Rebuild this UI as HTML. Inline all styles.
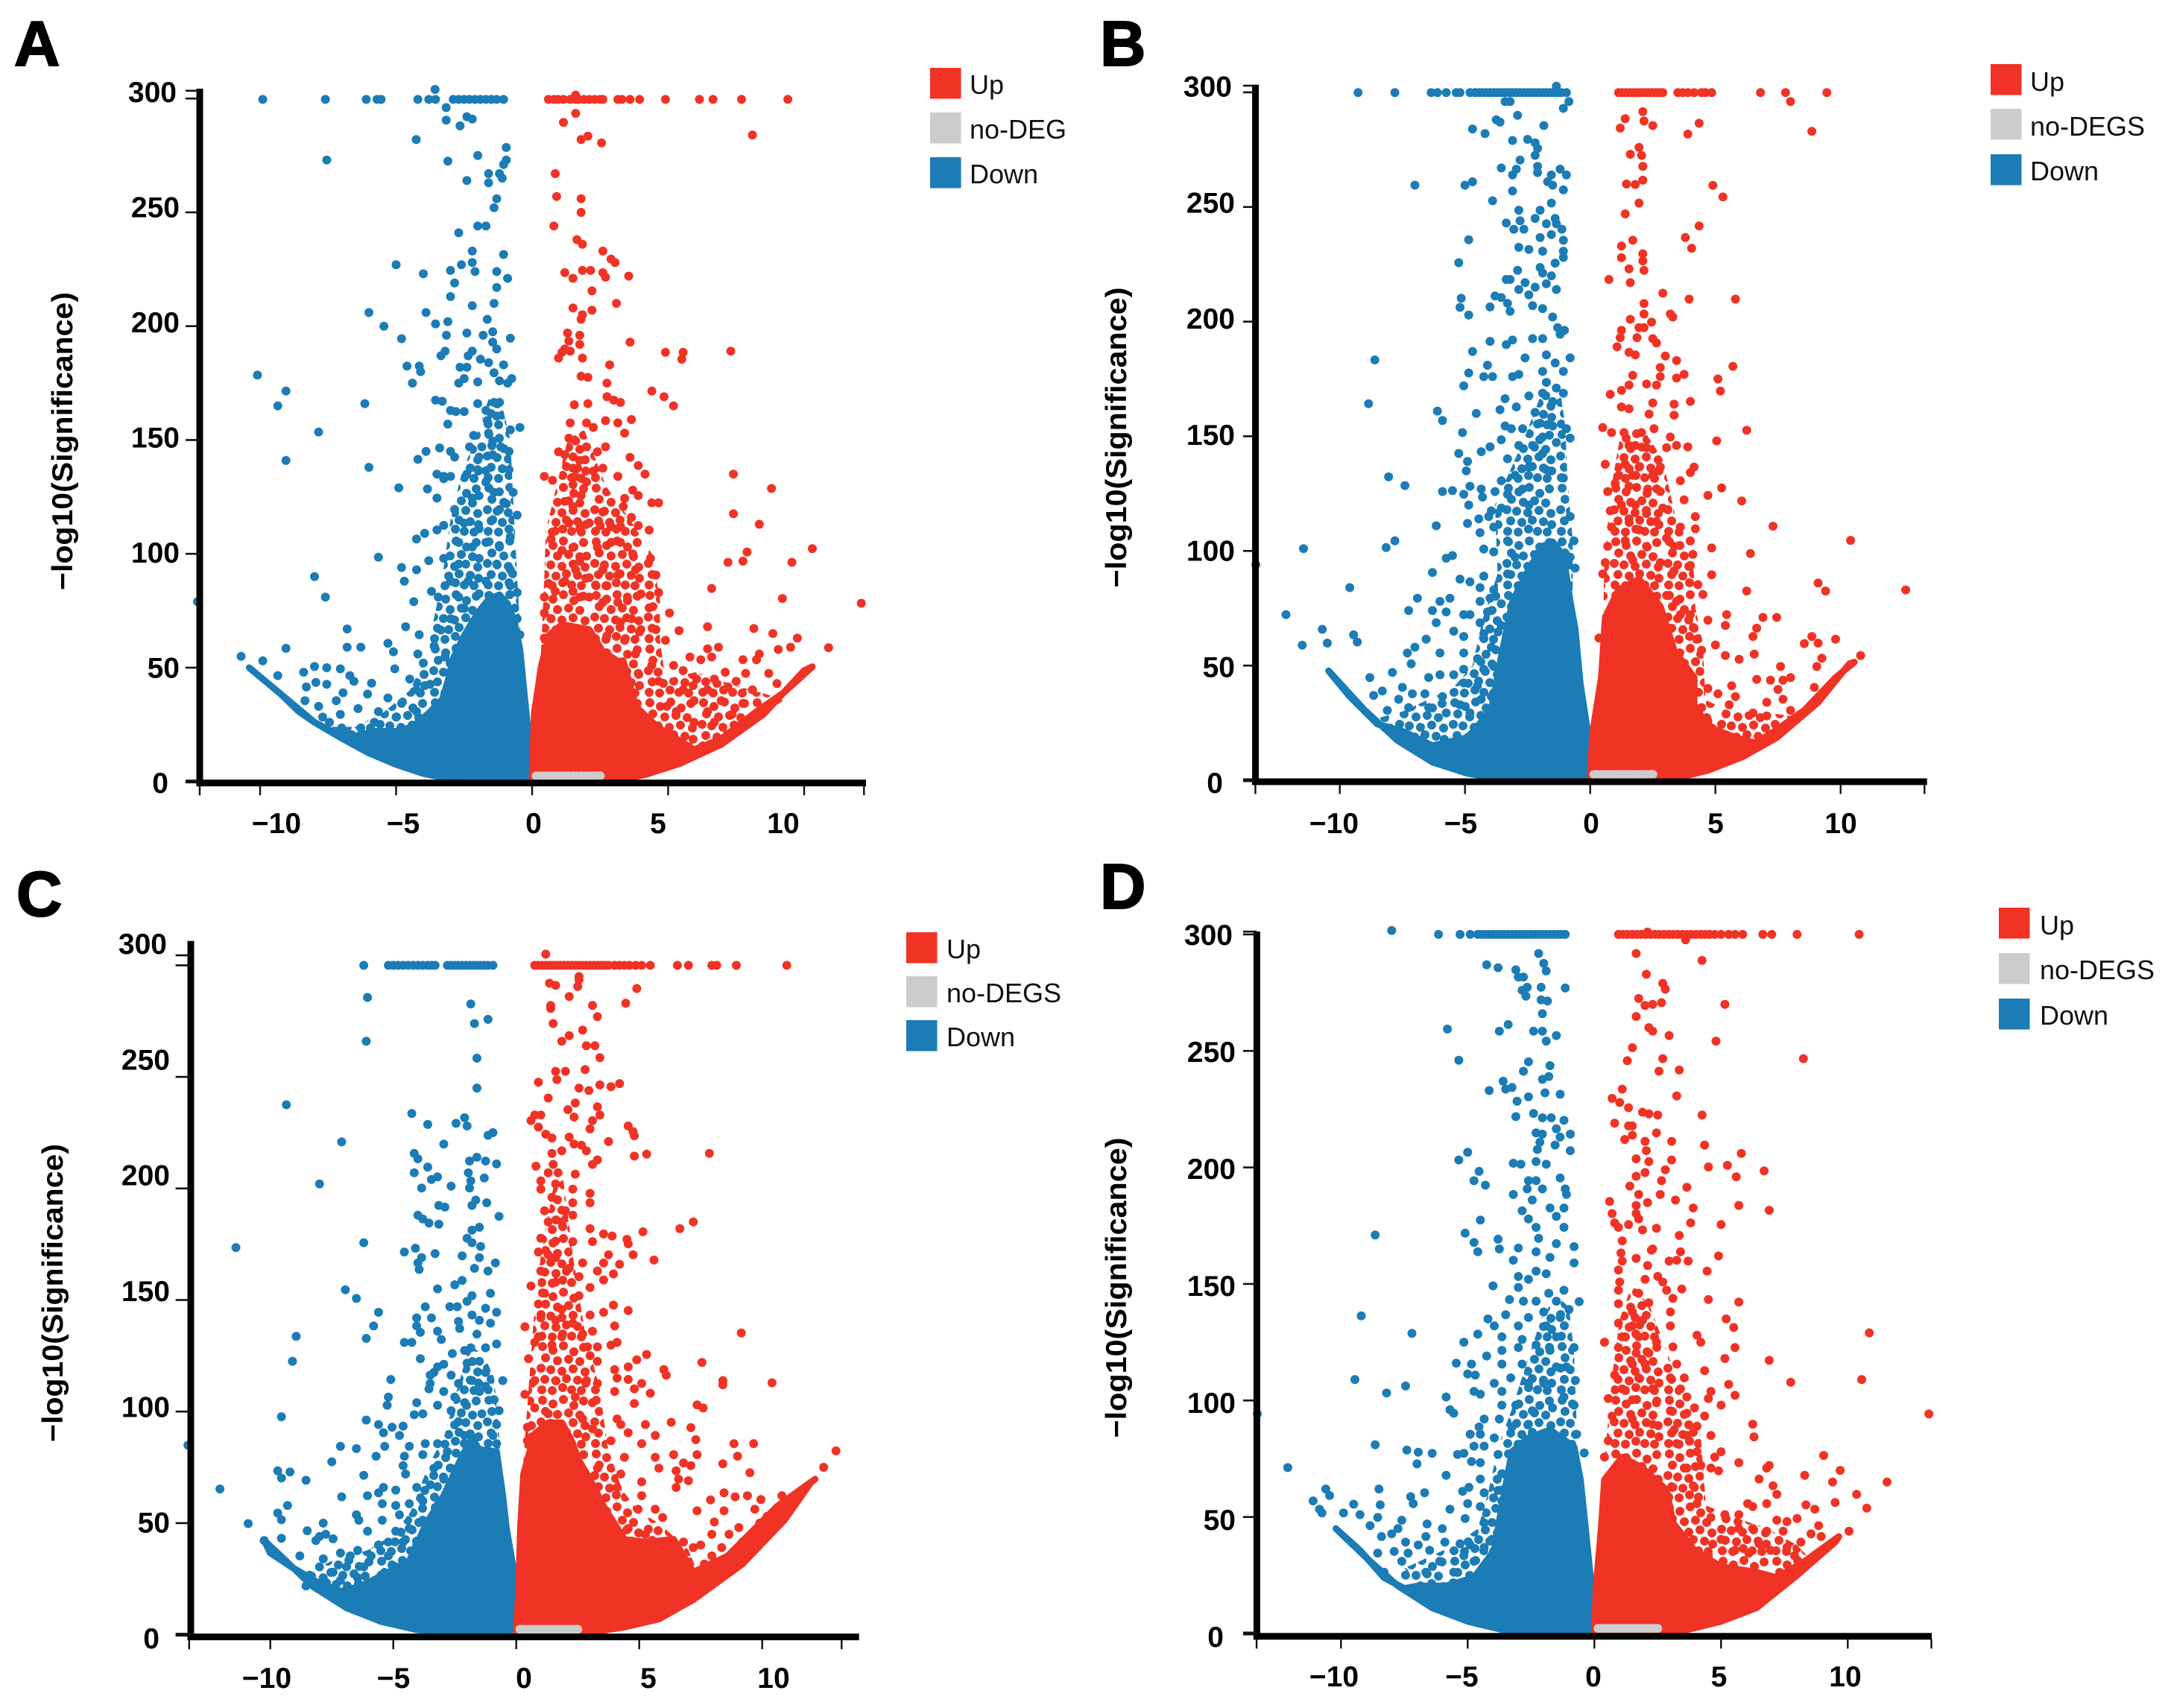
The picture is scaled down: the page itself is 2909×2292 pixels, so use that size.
<!DOCTYPE html>
<html lang="en">
<head>
<meta charset="utf-8">
<title>Volcano plots A-D</title>
<style>
html,body{margin:0;padding:0;background:#fff;}
svg{display:block;}
text{font-family:"Liberation Sans",sans-serif;fill:#000;}
.tick{font-weight:700;font-size:39px;}
.title{font-weight:700;font-size:39px;}
.letter{font-weight:700;font-size:85px;stroke:#000;stroke-width:2px;}
.leg{font-size:36px;fill:#111;}
</style>
</head>
<body>
<svg id="figure" xmlns="http://www.w3.org/2000/svg" width="2909" height="2292" viewBox="0 0 2909 2292">
<defs>
<pattern id="tex-up" patternUnits="userSpaceOnUse" width="72" height="72">
<path d="M8 7h0M22 12h0M36 6h0M50 14h0M63 8h0M12 22h0M28 26h0M43 24h0M58 27h0M6 36h0M19 38h0M34 40h0M49 37h0M65 41h0M11 51h0M26 53h0M40 50h0M55 52h0M66 56h0M7 65h0M21 66h0M35 62h0M47 65h0M60 66h0" stroke="#f03325" stroke-width="12" stroke-linecap="round" fill="none"/>
</pattern>
<pattern id="tex-down" patternUnits="userSpaceOnUse" width="72" height="72">
<path d="M8 7h0M22 12h0M36 6h0M50 14h0M63 8h0M12 22h0M28 26h0M43 24h0M58 27h0M6 36h0M19 38h0M34 40h0M49 37h0M65 41h0M11 51h0M26 53h0M40 50h0M55 52h0M66 56h0M7 65h0M21 66h0M35 62h0M47 65h0M60 66h0" stroke="#1b7cb6" stroke-width="12" stroke-linecap="round" fill="none"/>
</pattern>
</defs>
<rect x="0" y="0" width="2909" height="2292" fill="#fff"/>

<g id="panel-a">
<text class="letter" x="19" y="88">A</text>
<text class="title" transform="translate(97 592) rotate(-90)" text-anchor="middle" textLength="400" lengthAdjust="spacingAndGlyphs">−log10(Significance)</text>
<g>
<rect x="1248" y="91" width="41.5" height="41.5" fill="#f03325"/>
<text class="leg" x="1301" y="126">Up</text>
<rect x="1248" y="151" width="41.5" height="41.5" fill="#cccccc"/>
<text class="leg" x="1301" y="186">no-DEG</text>
<rect x="1248" y="211" width="41.5" height="41.5" fill="#1b7cb6"/>
<text class="leg" x="1301" y="246">Down</text>
</g>
</g>

<g id="panel-b">
<text class="letter" x="1476" y="88">B</text>
<text class="title" transform="translate(1511 587) rotate(-90)" text-anchor="middle" textLength="403" lengthAdjust="spacingAndGlyphs">−log10(Significance)</text>
<g>
<rect x="2671" y="86" width="41.5" height="41.5" fill="#f03325"/>
<text class="leg" x="2724" y="122">Up</text>
<rect x="2671" y="146" width="41.5" height="41.5" fill="#cccccc"/>
<text class="leg" x="2724" y="182">no-DEGS</text>
<rect x="2671" y="207" width="41.5" height="41.5" fill="#1b7cb6"/>
<text class="leg" x="2724" y="242">Down</text>
</g>
</g>

<g id="panel-c">
<text class="letter" x="22" y="1229">C</text>
<text class="title" transform="translate(84 1735) rotate(-90)" text-anchor="middle" textLength="400" lengthAdjust="spacingAndGlyphs">−log10(Significance)</text>
<g>
<rect x="1216" y="1251" width="41.5" height="41.5" fill="#f03325"/>
<text class="leg" x="1270" y="1286">Up</text>
<rect x="1216" y="1310" width="41.5" height="41.5" fill="#cccccc"/>
<text class="leg" x="1270" y="1345">no-DEGS</text>
<rect x="1216" y="1369" width="41.5" height="41.5" fill="#1b7cb6"/>
<text class="leg" x="1270" y="1404">Down</text>
</g>
</g>

<g id="panel-d">
<text class="letter" x="1476" y="1219">D</text>
<text class="title" transform="translate(1511 1728) rotate(-90)" text-anchor="middle" textLength="403" lengthAdjust="spacingAndGlyphs">−log10(Significance)</text>
<g>
<rect x="2682" y="1218" width="41.5" height="41.5" fill="#f03325"/>
<text class="leg" x="2737" y="1254">Up</text>
<rect x="2682" y="1279" width="41.5" height="41.5" fill="#cccccc"/>
<text class="leg" x="2737" y="1314">no-DEGS</text>
<rect x="2682" y="1340" width="41.5" height="41.5" fill="#1b7cb6"/>
<text class="leg" x="2737" y="1375">Down</text>
</g>
</g>
</svg>

<script>
const xTickValues=[-10,-5,0,5,10];
const yTickValues=[0,50,100,150,200,250,300];
const xTickLabels=["−10","−5","0","5","10"];
const yTickLabels=["0","50","100","150","200","250","300"];

const panelAGrey=[0.15,0.3,0.45,0.6,0.75,0.9,1.05,1.2,1.35,1.5,1.65,1.8,1.95,2.1,2.25,2.4,2.5];
const panelBGrey=[0.15,0.3,0.45,0.6,0.75,0.9,1.05,1.2,1.35,1.5,1.65,1.8,1.95,2.1,2.25,2.4,2.5];
const panelCGrey=[0.15,0.3,0.45,0.6,0.75,0.9,1.05,1.2,1.35,1.5,1.65,1.8,1.95,2.1,2.25,2.4,2.5];
const panelDGrey=[0.15,0.3,0.45,0.6,0.75,0.9,1.05,1.2,1.35,1.5,1.65,1.8,1.95,2.1,2.25,2.4,2.5];

const panelADownMid=[[-0.4,60],[-0.55,90],[-0.7,125],[-0.8,150],[-1.1,165],[-1.6,168],[-2.1,150],[-2.6,135],[-3,115],[-3.3,90],[-3.6,72],[-3.9,55],[-4.5,40],[-5.5,30],[-6.5,24],[-7.5,24],[-8,27],[-7,20],[-4,20],[-3,40]];
const panelAUpMid=[[0.3,50],[0.45,90],[0.5,110],[0.9,130],[1.3,150],[1.9,155],[2.7,130],[3.6,115],[4.4,100],[4.7,80],[4.7,62],[4.9,45],[6,48],[7.5,42],[8.7,38],[9.3,36],[8,26],[6,13],[3,10]];
const panelBDownMid=[[-0.7,80],[-0.7,105],[-0.9,130],[-1,155],[-1.2,170],[-1.9,170],[-2.6,150],[-3.2,135],[-3.8,120],[-3.7,90],[-4.3,70],[-4.7,50],[-5.5,40],[-6.5,35],[-7.5,30],[-8.5,27],[-7,16],[-4,15],[-3,50]];
const panelBUpMid=[[0.5,50],[0.55,90],[0.8,125],[1.2,150],[2,155],[2.9,140],[3.4,115],[4.1,100],[4.2,75],[4.5,60],[4.6,35],[5.6,30],[6.7,30],[8,28],[7,15],[4,10],[3,50]];
const panelCDownMid=[[-0.55,60],[-0.7,90],[-0.9,115],[-1.3,125],[-1.9,130],[-2.4,110],[-2.9,90],[-3.6,75],[-4.3,55],[-5,45],[-6,38],[-7.5,33],[-8.5,28],[-7,18],[-4,20],[-2.5,55]];
const panelCUpMid=[[0.2,50],[0.3,80],[0.5,110],[0.7,140],[1,170],[1.5,200],[1.9,205],[2.3,170],[2.8,135],[3.4,110],[3.7,85],[4.3,65],[5,55],[5.8,50],[7,38],[7.3,30],[6,20],[3,30]];
const panelDDownMid=[[-0.5,60],[-0.7,90],[-0.8,120],[-1,140],[-1.5,145],[-2.1,135],[-2.7,115],[-3.3,95],[-3.8,80],[-4.2,60],[-4.6,45],[-5.5,38],[-6.5,33],[-7.5,28],[-6.8,18],[-4,22],[-2.5,60]];
const panelDUpMid=[[0.3,50],[0.45,80],[0.7,110],[1,135],[1.5,150],[2.2,140],[2.9,120],[3.5,100],[4.2,85],[4.4,55],[5.5,50],[6.8,45],[8,38],[8.5,32],[7.5,22],[6,20],[4,35],[2.5,50]];

const panelADownDense=[[-10.4,50],[-10,46],[-9,36],[-8,26],[-7,19],[-6,12.5],[-5,7.5],[-4,3.5],[-3,1],[-2.5,0],[0.05,0],[-0.05,12],[-0.15,22],[-0.3,40],[-0.45,58],[-0.65,70],[-0.9,78],[-1.2,82],[-1.6,80],[-2,74],[-2.5,64],[-2.9,54],[-3.1,44],[-3.3,36],[-3.8,30],[-4.4,24],[-5,22],[-5.8,22],[-6.5,20],[-7.2,21],[-8,26],[-8.6,31],[-9.2,38],[-9.8,44]];
const panelAUpDense=[[0,0],[0.08,30],[0.33,50],[0.6,64],[1.1,69],[2.1,66.7],[2.6,57],[3.4,51],[3.8,33],[4.65,23.5],[5.95,14],[6.95,18.7],[8.25,30.7],[9.25,39],[10.3,50.4],[10,48.7],[8.5,29.5],[6.95,16.3],[5.45,8],[4.15,3],[2.9,0]];
const panelADown=[[-9.9,299.6],[-7.6,299.6],[-6.1,299.6],[-5.7,299.6],[-5.55,299.6],[-4.2,299.6],[-3.8,299.6],[-3.55,299.6],[-2.9,299.6],[-2.7,299.6],[-2.5,299.6],[-2.3,299.6],[-2.1,299.6],[-1.9,299.6],[-1.7,299.6],[-1.5,299.6],[-1.3,299.6],[-1.05,299.6],[-3.57,304],[-3.16,296],[-3.16,290.5],[-2.4,292],[-2.2,291],[-2.65,288],[-4.26,282],[-7.55,273],[-3.1,272.5],[-2,275],[-0.95,278.5],[-0.95,273],[-1.05,271],[-1.6,267],[-1.2,267],[-1.1,265],[-2.4,264],[-1.6,263],[-1.3,256],[-1.4,252],[-2,244],[-1.7,244],[-2.7,241],[-2.2,233],[-1.05,231.5],[-5,227],[-2.6,227],[-2.2,228],[-3,224.5],[-4,223],[-2.1,224],[-1.3,224],[-0.9,221],[-2.85,219],[-1.3,217],[-3,213],[-2.2,209],[-1.4,210],[-6,206],[-3.9,206],[-1.65,203],[-5.45,200],[-3.55,201],[-3.1,202],[-4.8,194.5],[-3.15,196],[-2.4,197],[-1.8,196],[-1.45,197.5],[-0.8,194.7],[-1.45,193],[-1.3,190],[-2.2,189],[-2.35,187],[-3.35,187],[-3.2,189],[-1.9,185.5],[-1.6,184],[-1.05,183],[-2.65,182],[-2.4,182],[-4.6,182.5],[-4.15,182.5],[-4.1,180],[-4.4,175],[-10.1,178.5],[-9.05,171.5],[-9.35,165],[-7.85,153.5],[-9.05,141],[-6.15,166],[-6,138],[-4.9,129],[-5.65,98.5],[-4.8,94],[-4.7,88],[-8,90],[-7.6,81],[-12.3,79],[-2.7,175],[-2.5,177],[-2,175.5],[-1.4,179.5],[-1.2,176],[-0.75,177],[-0.9,175],[-3.55,167.5],[-3.3,167],[-2,166],[-1.4,166.5],[-1.2,166.5],[-3,163],[-2.8,162.5],[-2.5,162.5],[-1.7,163],[-1.3,160.5],[-1.65,158.5],[-3.1,157],[-0.8,154.5],[-0.45,155.5],[-1.6,153],[-2.15,152],[-1.45,149.5],[-3.4,146.5],[-3.9,145],[-4.2,141.5],[-3,145],[-2.85,142.5],[-2.3,147],[-1.85,147],[-1.15,147],[-0.85,145],[-1.95,142.5],[-1.45,143.5],[-3.5,135],[-3.25,134],[-3,134],[-2.4,135],[-2,137],[-1.7,136.5],[-0.85,137],[-3.85,128.5],[-3.5,124.5],[-3.25,133],[-2.2,124.5],[-1.7,131.5],[-1.4,127],[-0.7,127],[-0.95,122],[-1.2,119.5],[-2.85,119.5],[-1.95,125.5],[-0.55,117],[-3.25,112.5],[-3.95,109],[-4.25,106.5],[-3.5,110.5],[-2.5,113.5],[-1.95,111],[-1.45,115],[-0.8,107.5],[-2.7,105],[-2.2,103],[-1.7,105],[-1.2,103],[-3.25,98],[-3.8,97],[-4.25,93],[-2.7,95.5],[-1.95,98],[-1.3,95.5],[-0.8,93],[-3,88],[-2.35,88],[-1.7,88],[-3.7,83.5],[-4.35,79],[-3.45,81],[-2.7,81],[-1.95,82.5],[-0.55,83],[-0.8,86],[-1.05,79],[-3,71.5],[-2.5,76],[-4.65,68],[-4.15,64.5],[-3.35,66.5],[-0.55,71.5],[-0.45,64.5],[-6.8,67],[-6.8,59],[-6.3,59],[-9.05,58.5],[-10.7,55],[-9.9,53],[-9.35,46.5],[-8.4,48],[-8,50.5],[-7.55,50],[-7.05,49.5],[-6.7,46.5],[-8.3,41.5],[-7.95,43.5],[-7.55,42.7],[-5.9,43.2],[-6.55,44],[-6.95,39],[-6.05,38.4],[-8.35,35.5],[-7.85,33],[-7.2,35.5],[-6.4,32],[-7.7,28.3],[-7.05,29.5],[-5.65,30.7],[-5.3,60.7],[-5.1,57],[-5.05,49.5],[-4.5,45],[-4.2,56],[-4,52],[-3.6,59.5],[-3.2,54.7],[-4.25,40.3],[-3.75,42.7],[-5.3,36.7],[-4.8,34.3],[-4.25,30.7],[-5.8,26],[-5,28.3],[-6.3,23.5],[-7,23.5],[-7.45,26]];
const panelAUp=[[0.6,299.6],[0.8,299.6],[0.95,299.6],[1.15,299.6],[1.4,299.6],[1.6,299.6],[1.7,299.6],[1.9,299.6],[2.1,299.6],[2.3,299.6],[2.5,299.6],[2.6,299.6],[3.15,299.6],[3.3,299.6],[3.6,299.6],[3.95,299.6],[4.9,299.6],[6.15,299.6],[6.65,299.6],[7.7,299.6],[9.4,299.6],[1.6,301.5],[1.6,293.5],[1.15,289.5],[8.1,284],[1.8,282],[2.05,283.5],[2.55,280.5],[0.85,267],[0.9,257],[1.8,256],[1.8,250],[0.8,244],[1.65,238],[1.85,236],[2.6,233],[2.9,229.5],[3.05,228],[1.2,223.5],[1.5,221],[1.85,224.5],[2.15,224.5],[2.6,223.5],[2.7,221.5],[3.55,222],[2.2,215.5],[3.1,210],[1.5,208],[2.2,207],[1.85,205],[1.8,203],[1.3,197],[1.75,196],[3.6,193],[1.35,193.5],[1.75,192],[1.2,190],[1.4,189],[1.1,188.5],[0.97,186],[1.85,186],[4.9,188.5],[5.55,188.5],[5.5,185.5],[7.3,189],[2.85,183],[1.8,178],[2.05,177.5],[2.75,175],[4.4,171.5],[4.85,169],[5.2,165],[2.75,169],[3,167.5],[3.25,166.5],[1.55,165.5],[2.05,166],[1.4,157.5],[2,157.5],[2.7,158.5],[2.25,155.5],[3.15,157.5],[3.65,159],[3.4,153],[8.8,128.7],[7.4,135],[7.4,117.6],[8.35,113],[7.9,100.8],[7.2,96.3],[7.75,96.8],[9.55,96.3],[10.3,102.3],[6.6,84.8],[9.2,80.4],[12.1,78.3],[6.45,68],[8.15,67.2],[8.85,65],[9.75,63],[9.05,58],[9.5,59],[10.9,58.8],[6.85,59],[6.45,58.3],[6.2,53.5],[5.8,54.7],[5.2,51],[5.55,48.7],[6.6,54.7],[7.75,53.5],[8.25,53.5],[8.35,56],[8.7,47.5],[9,43],[7.85,47.5],[7.1,48],[7.5,44],[6.7,45],[6.05,45],[7.2,41.5],[8.1,40.3],[6.45,40.3],[5.55,40.3],[5.95,35.5],[6.95,35.5],[7.75,34.3],[4.95,33],[5.3,30.7],[6.45,30.7],[7.35,29.5],[5.95,26],[6.7,26],[4.65,44],[3.9,47.5],[4.4,51],[4.9,62],[4.55,66.7],[5.05,74],[5.4,66.3],[4.3,76.3],[4.65,83],[4.55,90.7],[4.35,98],[3.7,100],[3.8,93],[4,82.4],[3.5,81],[3.15,78.7],[3.65,71.5],[3.25,70],[4,66.7],[2.75,64],[3.4,62],[3.8,56],[2.6,93],[3.15,90.7],[2.35,86],[2.75,86],[1.75,96.8],[2.1,89.5],[1.5,83.5],[0.85,83.5],[0.45,81],[0.45,74],[0.7,71.5],[0.45,63],[1.75,81],[2.1,81],[2.6,78.7],[0.6,87],[1.2,88],[1.6,93],[0.85,110],[0.7,106.4],[1.1,101.5],[1.5,102.8],[2,99],[2.4,102.8],[2.9,105],[3.25,105],[2.5,112.4],[2.9,112],[3.25,112],[3.65,116],[4.3,110.4],[3.9,112.4],[2.6,118.4],[1.35,113.6],[1.75,111],[2.1,113.6],[1.5,120.8],[1.8,125.6],[1.2,123],[3.4,124.4],[3.35,120.8],[4.4,122.4],[4.65,122.4],[3.7,128],[3.9,125.6],[1.5,130.4],[1.6,134],[0.45,134],[0.75,132.3],[2,131.6],[2.25,136.4],[2.6,137.6],[3.15,134],[3.9,138.8],[3.6,142.4],[4.15,135],[1.5,137.6],[1.75,141],[1.2,143.6],[0.97,144.8],[2.7,147],[2.4,144.8],[2,147],[1.6,149.6],[1.35,150.8]];

const panelBDownDense=[[-10.45,47.7],[-9,30.5],[-7.7,17.4],[-6.3,7.9],[-4.9,3],[-3.55,0.7],[0,0],[-0.1,21],[-0.4,42.4],[-0.6,66],[-0.8,78],[-1.07,98],[-1.5,104],[-1.9,102],[-2.45,92],[-3.1,78],[-3.55,54],[-3.95,30.5],[-4.9,18.6],[-6.3,15],[-7.4,21],[-8.5,24.5],[-9.6,36.5]];
const panelBUpDense=[[0,0],[0.1,21],[0.45,45],[0.6,71],[1.13,83],[1.95,87.7],[2.8,75.8],[3.35,56.7],[4.15,44.8],[4.15,32.9],[4.7,23.4],[5.8,18.6],[6.6,16.2],[7.45,22],[8.55,30.5],[9.8,44.8],[10.55,51.5],[10.35,50.8],[9.1,34],[7.45,18.6],[6.1,10.3],[4.7,4.3],[3.35,0.7],[2.65,0]];
const panelBDown=[[-9.27,299.9],[-7.8,299.9],[-6.35,299.9],[-6.1,299.9],[-5.75,299.9],[-5.35,299.9],[-5.2,299.9],[-4.8,299.9],[-4.6,299.9],[-4.45,299.9],[-4.3,299.9],[-4.15,299.9],[-4,299.9],[-3.85,299.9],[-3.7,299.9],[-3.55,299.9],[-3.4,299.9],[-3.25,299.9],[-3.1,299.9],[-2.95,299.9],[-2.8,299.9],[-2.65,299.9],[-2.5,299.9],[-2.35,299.9],[-2.2,299.9],[-2.05,299.9],[-1.9,299.9],[-1.75,299.9],[-1.6,299.9],[-1.45,299.9],[-1.3,299.9],[-1.15,299.9],[-0.95,299.9],[-1.35,302.7],[-3.4,296],[-3.2,296],[-0.85,296],[-1.07,293],[-2.9,290],[-3.75,288],[-3.6,287],[-1.85,285.5],[-4.7,284],[-4.2,282],[-3.1,279],[-2.5,279.5],[-2.2,278],[-2.1,275.5],[-2.2,272.5],[-2.8,270.5],[-3.55,267],[-2.95,266.5],[-3.1,264],[-2.1,267.7],[-2.1,265],[-1.2,266.5],[-0.95,264],[-1.55,264],[-1.7,261],[-1.5,259.5],[-1.07,257.5],[-7,259.5],[-4.7,261],[-5,259.5],[-3.1,257],[-3.9,252.7],[-1.55,251.7],[-2.85,248.6],[-2,248.6],[-3.35,243],[-2.8,244],[-3.05,240.3],[-2.65,240.3],[-2.2,245],[-1.75,242.7],[-1.4,245],[-1.13,240.3],[-1.35,242.7],[-2,236.7],[-1.55,238],[-1.07,235.5],[-4.85,235.7],[-2.85,232.4],[-2.45,231.5],[-1.9,230.7],[-1.07,230.7],[-1.07,228],[-5.25,225.7],[-2.9,222.4],[-2,223.6],[-1.4,225.5],[-1.9,221.2],[-1.55,220],[-3.35,218.4],[-3.2,218.4],[-2.6,217],[-2.2,215],[-1.75,216.5],[-1.35,214],[-2.85,214],[-2.45,211.7],[-3.8,211.2],[-3.55,210.5],[-5.15,210.2],[-5.2,206.2],[-4.85,202.9],[-4,206.4],[-3.3,208],[-3.2,204.5],[-2.3,207],[-1.9,205.7],[-1.5,202],[-1.3,197.4],[-1.03,196.2],[-1.2,194.5],[-2.3,192.6],[-1.9,192.6],[-3.1,192],[-3.35,190],[-4,191.4],[-4.7,187],[-8.6,183.3],[-2.6,184.2],[-1.75,185.5],[-0.8,184.2],[-1.4,182],[-4.85,177.6],[-4.1,181],[-4.25,176],[-3.9,176],[-3.1,176],[-2.85,177],[-1.9,178.3],[-1.07,178.3],[-5.05,172],[-1.75,173.5],[-1.35,171],[-1.07,168.8],[-8.85,164.2],[-3.4,166.4],[-2.45,167.6],[-1.9,168.8],[-1.5,165.2],[-6.1,161],[-5.9,156.9],[-4.55,160],[-3.6,161.6],[-2.95,162.8],[-2.2,160.4],[-5.1,151.6],[-3.4,154.5],[-3.15,153.3],[-2.7,153.3],[-2,155.7],[-1.5,154.5],[-0.95,153.3],[-0.8,149.2],[-3.55,148.5],[-2.85,146],[-2.3,146],[-1.9,149.7],[-1.35,147.3],[-5.25,142.5],[-4.35,143.3],[-4,145.4],[-1.9,142.5],[-4.9,139],[-3.3,140.2],[-2.45,136.6],[-1.75,135.4],[-4.95,134.9],[-8.05,132.3],[-7.4,128.5],[-3.55,130.6],[-3,133],[-1.07,131.8],[-4.8,128.2],[-4.35,127],[-5.9,125.9],[-5.5,126.3],[-3.8,125.9],[-3.3,124.7],[-2.7,127],[-5.05,124.7],[-4.3,123.5],[-4.85,120],[-3.55,118.7],[-3.95,117.5],[-2.45,120],[-0.8,115],[-4.05,115],[-4.45,114],[-4.9,112],[-6.15,111],[-3.85,110.4],[-4.4,108],[-3.3,104.4],[-7.8,104.4],[-8.15,101.5],[-11.45,101],[-13.35,94],[-5.75,96.8],[-5.5,98],[-4.25,100.8],[-3.85,99.6],[-3,97.3],[-0.65,104.4],[-0.8,97.3],[-0.6,92.5],[-6.3,90.6],[-5.2,87.7],[-4.8,86.5],[-4.25,89],[-3.85,83],[-4.4,84],[-3.3,90],[-9.6,84],[-6.9,79.4],[-6,78],[-5.6,79.4],[-4.4,78],[-4,79.4],[-7.25,74],[-6.3,74],[-5.75,73.4],[-5.05,72.2],[-4.8,72.2],[-4.1,73.4],[-3.55,77],[-12.15,72.2],[-10.7,65.8],[-9.45,63.4],[-9.3,60.3],[-10.5,59.8],[-11.5,58.9],[-6.15,68.7],[-5.45,65],[-5.05,62.7],[-4.4,68.7],[-4.25,63.9],[-3.55,67.5],[-6.55,61.5],[-7.3,55.5],[-7,58],[-6,55.5],[-5.05,55.5],[-4.5,53],[-3.95,58],[-7.15,50.8],[-6,46],[-5.45,46],[-7.9,47],[-8.8,44.8],[-5.05,48.4],[-4.25,48.4],[-3.85,49.6],[-6.45,44.8],[-7.5,40.5],[-8.65,37],[-8.3,38.9],[-5.05,42.4],[-4.5,41.2],[-6.6,37.7],[-5.9,36.5],[-7.65,35.3],[-7.1,37.7],[-5.2,32.9],[-4.35,35.3],[-8.1,30.5],[-7.25,31.7],[-6.45,31.7],[-5.75,29.3],[-4.8,29.3],[-3.95,36.5]];
const panelBUp=[[1.13,299.9],[1.28,299.9],[1.43,299.9],[1.58,299.9],[1.73,299.9],[1.88,299.9],[2.03,299.9],[2.18,299.9],[2.33,299.9],[2.48,299.9],[2.63,299.9],[2.78,299.9],[2.9,299.9],[3.5,299.9],[3.7,299.9],[3.9,299.9],[4.15,299.9],[4.45,299.9],[4.6,299.9],[4.85,299.9],[6.8,299.9],[7.8,299.9],[9.45,299.9],[8,296],[8.85,283],[2.1,291.6],[1.4,288.5],[2.15,287.5],[1.2,284.4],[2.5,285.5],[4.35,286.5],[3.9,281.8],[1.95,276],[1.6,273],[2.05,272.5],[2.1,267.7],[2.1,261.7],[1.8,259.8],[1.45,260],[4.9,259.4],[5.3,254.4],[1.95,251.7],[1.4,247],[4.35,241.7],[3.8,236.7],[4.05,232],[1.7,235.5],[1.25,233],[2.1,229.6],[1.25,227.9],[2.1,226.5],[1.55,223],[2.15,222.4],[0.75,218.4],[1.6,217],[2.9,212.4],[3.95,209.8],[5.8,209.8],[2.15,207.9],[2.15,203.3],[3.2,203.3],[3.3,202],[1.6,201],[1.25,196.2],[1.95,197.4],[2.15,197.4],[2.45,199.8],[1.2,193],[1.87,193],[2.5,192.6],[2.65,190.7],[1.07,189],[1.55,186.6],[1.8,185.5],[3,185],[3.45,183],[5.7,180.5],[2.8,180],[1.7,176.6],[3.75,177],[3.45,175.4],[5.1,175],[2.8,176],[1.55,172.3],[2.25,172.8],[2.65,172.3],[1.25,170],[0.8,168.3],[5.2,169.7],[4,165.2],[2.5,164.5],[3.35,164],[1.25,162.8],[1.55,162],[3.35,159.2],[2.35,159.7],[0.5,153.8],[0.85,151.6],[1.35,151.6],[2.05,151.6],[2.55,153.3],[3.2,149.7],[6.25,152.6],[5.05,148],[1.55,146],[1.8,146],[2.25,145],[3.05,145],[3.45,146],[3.9,145.4],[0.6,137.8],[1.4,137.8],[1.95,136.6],[2.8,136.6],[4.15,136.6],[4,134.2],[1.15,133],[1.7,133],[2.5,133],[3.6,130.6],[1,129.4],[1.55,128.2],[2.3,127],[2.8,125.9],[5.25,127.5],[4.7,124.2],[0.7,125.9],[3.75,122.3],[6.05,121.8],[1.25,120],[1.8,120],[2.25,116.3],[2.9,118.7],[4.2,115],[0.8,117.5],[1.55,114],[2.65,112.8],[3.6,110.4],[4.2,109.7],[7.3,110.8],[0.85,110.4],[1.95,109.2],[3.05,105.6],[4,104.4],[10.4,104.6],[0.7,102],[1.4,104.4],[4.85,101.3],[2.25,102],[3.35,102],[6.4,98.9],[4.1,98.5],[0.6,94.9],[1.7,96],[2.8,94.9],[4,93.7],[0.5,90],[3.35,91.3],[4.85,89.6],[9.1,86],[9.4,82.5],[12.6,83],[4.3,85.3],[6.25,82.5],[4.5,81],[3.05,80.6],[3.45,78],[3.6,72.2],[4,72.2],[4.7,69.8],[5.45,72.2],[5.4,67.5],[6.9,71],[7.45,71],[6.65,66.3],[6.5,62.7],[4.15,66.3],[4.25,61.5],[0.35,62],[5,59],[8.85,62.7],[8.55,59.6],[9.1,59.8],[9.8,61.5],[5.4,54.4],[5.95,52.7],[6.55,55],[4.45,56.7],[10.8,54.4],[9.25,53.2],[9.05,49.6],[7.6,49.6],[8,44.8],[7.7,43.6],[8.95,40.5],[6.65,44],[7.2,43.6],[7.5,39.6],[5.65,41.2],[5.1,37.7],[5.8,36.5],[7.05,34],[7.7,35.3],[8,30.5],[4.7,40],[3.9,42.4],[4.45,31.7],[5.55,32.9],[6.5,29.3],[7.05,28],[4.7,25.7]];

const panelCDownDense=[[-10.25,42.2],[-9.7,36.6],[-8.3,21.8],[-6.9,12],[-5.5,5.9],[-4.05,2.2],[-2.95,1],[0,0.5],[0.03,20.6],[-0.17,33],[-0.4,47.6],[-0.55,62.3],[-0.8,82],[-1.5,83],[-1.8,88],[-2.2,80],[-2.95,62.3],[-3.65,50],[-4.35,33],[-5.2,28],[-6.3,21.8],[-7.15,19.4],[-8,23],[-9.15,30.4],[-10,36.6]];
const panelCUpDense=[[0,0.5],[0.1,20.6],[0.17,47.6],[0.3,72],[0.75,90],[1.3,95],[1.85,95],[2.2,88],[2.55,78],[3,69.7],[3.55,57.4],[4.4,42.7],[5.25,41.5],[6.4,42.7],[7.2,28],[8.6,35.3],[10.6,57.4],[12.15,69.7],[12,68.5],[10.9,51.3],[9.2,31.7],[7.2,15.7],[5.8,7],[4.4,3.4],[2.7,0.5]];
const panelCDown=[[-6.2,300],[-5.2,300],[-5,300],[-4.8,300],[-4.6,300],[-4.4,300],[-4.2,300],[-4,300],[-3.8,300],[-3.6,300],[-3.45,300],[-3.3,300],[-2.8,300],[-2.65,300],[-2.5,300],[-2.35,300],[-2.2,300],[-2.05,300],[-1.9,300],[-1.75,300],[-1.6,300],[-1.45,300],[-1.3,300],[-1.15,300],[-0.95,300],[-6.05,285.6],[-6.1,266],[-1.85,282.7],[-1.7,273.9],[-1.15,275.8],[-1.6,258.4],[-1.6,245],[-9.35,237.5],[-4.25,233.6],[-3.6,228.7],[-2.45,229.2],[-2.1,231.7],[-2,228],[-1.15,223.8],[-0.95,225],[-2.95,219.9],[-7.1,220.9],[-4.15,215.7],[-4,213.3],[-3.6,209.6],[-4.15,207],[-1.6,214],[-1.9,212.3],[-1.25,212.3],[-0.8,211],[-3.2,205.2],[-3.45,204],[-2.65,201],[-3.85,200.2],[-8,202],[-1.95,207],[-1.85,203.4],[-1.3,204.7],[-1.9,200.2],[-1.65,194.8],[-1.8,192.4],[-1.2,193.6],[-3.15,192.4],[-2.9,191.6],[-0.7,187.5],[-4,188],[-3.8,186.3],[-3.55,184.5],[-3.15,184],[-1.5,182.6],[-1.8,181.3],[-2,177.7],[-6.2,175.7],[-1.8,175.7],[-1.45,174],[-11.4,173.5],[-4.1,173.2],[-4.55,171.5],[-3.3,170.8],[-3.85,169],[-2.2,169.8],[-1.5,169],[-4,166.6],[-0.85,166.6],[-3.95,163.7],[-1.7,164.2],[-1.15,163],[-2.2,158.8],[-2.5,156.8],[-6.95,154.6],[-3.2,155],[-1.05,153],[-6.5,150.7],[-1.8,151.9],[-3.7,147],[-2.7,147],[-2.4,147],[-2,149.4],[-5.6,144.5],[-1.25,146.3],[-0.8,144.5],[-4.05,142],[-3.45,142],[-1.8,143.3],[-1.5,140.9],[-2.35,140.4],[-1.05,139.6],[-5.8,138.4],[-4.05,138.4],[-2.3,137.2],[-3.9,135.5],[-3.2,136],[-8.95,133.7],[-6.1,132.8],[-1.6,134.7],[-3.05,132.3],[-4.55,131],[-4.25,131],[-0.8,130.3],[-1.85,128.6],[-1.25,128.6],[-2.6,126],[-2.1,127.4],[-3.9,123.7],[-9.1,122.5],[-2.95,121.2],[-3.2,120],[-2,121.7],[-1.5,122.5],[-3.35,117.5],[-3.5,116.3],[-2.65,116.3],[-1.25,117.5],[-5.1,114.4],[-0.55,113.9],[-3.5,112.6],[-2.35,112.6],[-1.8,113.9],[-1.25,111.4],[-3.55,110.2],[-2.95,109],[-2.5,106.5],[-5.2,106.5],[-1.5,109],[-0.9,105.3],[-5.25,102.8],[-4.05,104],[-3.2,102.8],[-9.55,97.7],[-3.8,99],[-4.15,98.6],[-2.65,100.4],[-2.1,104],[-0.7,100.4],[-1.4,99],[-6.1,96.2],[-5.6,94.2],[-5.05,93],[-4.6,93.5],[-2.35,95.5],[-0.8,94.2],[-5.4,90.5],[-4.75,89.3],[-2.1,89.3],[-7.15,84.4],[-6.5,83.4],[-4.35,84.4],[-3.7,85.6],[-3.2,85.6],[-5.35,84.4],[-0.95,89.3],[-0.8,85.6],[-13.35,84.9],[-5.7,80],[-4.55,80],[-3.8,80.7],[-2.8,82],[-7.5,77.5],[-4.6,75.8],[-3.35,74.6],[-2.65,74.6],[-9.7,73.4],[-9.2,72.9],[-9.55,70.2],[-6.2,71.4],[-4.5,72],[-8.55,69.2],[-5.4,66],[-6.05,62.3],[-12.05,65.3],[-7.1,61.8],[-5.6,63.6],[-4.9,64.8],[-4.05,66],[-3.5,67.2],[-2.95,69.7],[-9.3,57.9],[-5.45,58.7],[-4.9,57.9],[-4.35,58.7],[-3.8,59.9],[-3.15,58.7],[-9.7,54.5],[-9.55,51.5],[-6.5,53.7],[-10.9,49.8],[-6.4,51.3],[-5.45,51.3],[-4.75,53.7],[-7.85,50],[-8.5,46.6],[-9.55,43.2],[-10.25,42.2],[-8,44],[-7.75,45],[-7.45,43],[-8.15,42.2],[-6.05,46.4],[-4.9,46.4],[-4.35,47.6],[-3.8,51.3],[-3.5,45],[-5.2,41.5],[-5.6,40.2],[-4.6,41.5],[-8.8,35.3],[-7.85,34],[-7.15,36.6],[-6.75,35.3],[-6.45,37.8],[-5.9,35.3],[-5.2,35.3],[-4.05,40.2],[-8,30.4],[-7.45,28],[-6.9,30.4],[-6.2,30.4],[-4.9,30.4],[-4.2,33],[-8.4,26.7],[-7.15,24.3],[-6.45,25.5],[-5.5,26.7],[-8.55,21.8],[-7.85,25.5]];
const panelCUp=[[0.75,300],[0.9,300],[1.05,300],[1.2,300],[1.35,300],[1.5,300],[1.65,300],[1.8,300],[1.95,300],[2.1,300],[2.25,300],[2.4,300],[2.55,300],[2.7,300],[2.85,300],[3,300],[3.15,300],[3.3,300],[3.45,300],[3.6,300],[3.75,300],[4,300],[4.2,300],[4.4,300],[4.6,300],[4.85,300],[5.1,300],[5.45,300],[6.55,300],[7,300],[7.95,300],[8.15,300],[8.95,300],[11,300],[1.2,305],[2.55,295],[2.55,293.5],[1.35,292],[1.6,291],[2.5,290.5],[4.9,289.6],[2.15,286],[4.45,283],[1.4,282],[1.4,280.7],[3.1,282],[3.3,277],[1.5,273.9],[2.7,271],[2.15,268.5],[1.85,266],[2.85,264],[3.2,264],[3.4,258.6],[2.8,253.3],[1.6,252.5],[2,252.5],[1.65,248.8],[0.9,247.6],[4.2,247],[3.85,245.6],[2.55,245],[2.95,243.9],[3.4,246.4],[1.3,240.5],[2.4,238.3],[3.3,236.6],[2.1,235.3],[0.75,232.9],[1,232.9],[0.6,230.4],[2.35,232],[3.4,232.9],[3.1,230.4],[4.55,228],[0.9,227.5],[4.75,225.5],[3,226.7],[1.2,224.3],[1.45,222.6],[2.15,223],[4.8,223.6],[3.75,221],[2.35,219.9],[2.65,219.4],[7.85,215.7],[5.3,215.4],[4.8,214.5],[1.45,215.7],[1.85,216.9],[2.85,216.9],[3.3,212.8],[3.1,210.8],[1.5,210.8],[0.8,210],[1.3,207],[1.7,207],[2.4,206.4],[1,203.4],[1.6,202],[1,199.7],[2.3,199.7],[3,197.8],[1.45,196],[3,193.6],[2.3,193.6],[1.15,190],[2,190],[2.3,188],[1.3,185],[1.85,185],[7.2,185],[6.65,182],[3,182],[5.15,180.6],[3.55,179.6],[3.9,178.7],[4.5,177.2],[1,177.7],[1.6,176.4],[2.3,176.2],[3.1,176.2],[4.55,175.2],[0.9,171.5],[1.3,170.3],[4.75,170.3],[3.75,170.3],[5.6,167.9],[1.6,169],[2.7,166.6],[3.55,166.6],[4.2,166],[3.3,163],[2.15,164.2],[1,163],[2.55,160.5],[3.95,161.7],[3.55,159],[0.6,156.3],[1.6,158],[3,155.6],[1.15,153],[2.55,151.9],[0.9,148.2],[1.85,145.8],[3.95,147.7],[4.55,145.3],[3.55,144.5],[3,143.3],[1,142],[1.6,140.9],[2.3,139.6],[4,138.4],[0.35,138],[2.7,134.7],[3.1,136],[9.15,135.2],[0.9,133.5],[1.85,133.5],[3.85,129.8],[3.3,129],[2.9,129],[4.1,131],[1.45,129.8],[0.75,131],[5.3,125.6],[4.9,123.2],[4.55,120],[4,118.8],[0.5,123.7],[3,125],[3.3,122.5],[7.55,122],[6,118.8],[6.1,116.3],[4.1,115],[4.55,114.4],[8.4,113.9],[8.4,112],[10.4,112.9],[2.85,113.9],[3.3,112.6],[5.1,112.6],[4,109],[4.8,110.2],[5.45,108.2],[0.75,113.9],[1.6,113.9],[0.35,107.7],[2.4,106.5],[3.1,104],[4.8,103.6],[7.35,103],[7.6,101.6],[0.75,101.6],[1.3,99],[2.7,96.7],[4.1,96.7],[6.3,95.2],[5.25,94.2],[4.25,94.2],[7.1,92.8],[0.45,93],[3.1,92.3],[4.55,90.5],[5.65,89.3],[7.3,87.4],[8.85,85.6],[9.65,85.6],[3.85,86.9],[5.1,85.6],[0.45,86.9],[13,82.4],[6.4,80.7],[7.35,80.7],[9,80],[5.65,79.5],[4.4,79.5],[8.4,76.6],[6.8,77],[5.8,74.6],[7.1,75.8],[12.5,75],[9.5,72.6],[6.5,73.4],[5.1,68.5],[6.6,69.7],[7,69],[4.25,72],[3.3,74.6],[4.1,66],[6.5,66],[5.1,62.3],[8.45,63.6],[8.9,61.8],[7.9,60.4],[9.4,62.3],[9.95,60.6],[10.8,62.3],[7.35,55.5],[8.45,55.5],[9.7,56.2],[10.2,53],[9.9,50],[5.65,56.2],[5.95,52.5],[4.95,56.2],[8.05,50.5],[9.05,48],[8.65,45],[7.95,45],[7.5,40.2],[6.8,41.5],[6.4,40.2],[8.35,39],[9.2,41.5],[7.2,39],[7.95,35.3],[7.65,31.7],[4.55,47.6],[5.25,45]];

const panelDDownDense=[[-10.2,45],[-8.85,31],[-7.75,20.4],[-6.4,11],[-5,5.2],[-3.4,1],[0,0],[-0.13,21.6],[-0.35,45],[-0.55,66],[-0.8,80],[-1.75,87.4],[-2.6,83.9],[-3.25,78],[-3.65,54.5],[-3.95,35.7],[-4.75,24],[-5.85,20.4],[-6.95,20.4],[-7.5,19.3],[-8.3,24],[-9.25,35.7]];
const panelDUpDense=[[0,0],[0.08,21.6],[0.27,45],[0.4,66],[1.1,75.7],[1.9,71],[2.85,61.6],[3.1,47.5],[3.95,35.7],[5,28.7],[6.4,26.3],[7.2,24],[8.3,31],[9.65,41.6],[9.5,39.2],[8,25],[6.4,11],[5,5.2],[3.65,1.6],[2.7,0]];
const panelDDown=[[-8,301.7],[-6.15,300],[-5.3,300],[-4.9,300],[-4.6,300],[-4.45,300],[-4.3,300],[-4.15,300],[-4,300],[-3.85,300],[-3.7,300],[-3.55,300],[-3.4,300],[-3.25,300],[-3.1,300],[-2.95,300],[-2.8,300],[-2.65,300],[-2.5,300],[-2.35,300],[-2.2,300],[-2.05,300],[-1.9,300],[-1.75,300],[-1.6,300],[-1.45,300],[-1.3,300],[-1.15,300],[-2.2,291.8],[-2,287.6],[-4.25,287],[-3.8,285.7],[-3.1,284.8],[-3,281.7],[-2.8,281.7],[-1.9,284.3],[-1.15,277],[-2.85,276],[-2.65,277.3],[-2.1,277.3],[-2.7,273.5],[-2.1,271.9],[-1.85,271.4],[-2.05,266],[-5.8,259.4],[-3.4,261.3],[-3.75,258.5],[-2.4,258.5],[-2.05,258.5],[-1.5,256.6],[-1.9,254.2],[-5.35,246],[-2.6,245.3],[-2.8,241.3],[-1.75,243.7],[-1.8,239],[-2.05,237.8],[-3.6,237],[-4.15,233],[-3.5,233.6],[-3.25,234.3],[-2.6,230.3],[-3.05,228.4],[-1.35,231.4],[-1.95,232],[-2.4,223.2],[-3.1,221.8],[-2.05,221.3],[-1.7,221.3],[-1.2,220.2],[-2.3,214.8],[-2.05,214.3],[-1.5,216.6],[-0.95,214.3],[-1.35,213],[-1.55,209.6],[-2.15,210.8],[-5,206.5],[-5.35,203.2],[-0.95,207.2],[-2.25,207.7],[-3.2,201.8],[-2.9,201.4],[-2.3,202.5],[-1.9,201.4],[-4.55,198.3],[-4.75,194.3],[-4.3,192.4],[-2.6,194.3],[-2.3,194.3],[-1.35,195.5],[-1.15,190.8],[-2.65,190.8],[-2.05,190.8],[-3.2,188.4],[-2.45,186],[-1.1,188.4],[-1.75,182.6],[-2.85,181.4],[-1.2,182.6],[-2.6,177.9],[-4.5,177.4],[-1.5,179],[-2.3,174.3],[-1.2,174.3],[-8.65,171],[-5.1,171.8],[-3.8,169.2],[-4.75,167.8],[-4.6,163.8],[-3.75,165],[-3,165.4],[-2.2,169.6],[-1.5,167.3],[-0.8,166],[-2.3,163.8],[-1.75,161.4],[-3.2,160.2],[-0.8,159],[-3,153.2],[-2.3,155.5],[-1.9,154.4],[-4,149.2],[-2.6,152],[-3,148.5],[-1.2,147.3],[-1.8,146],[-0.6,142.4],[-3.35,143.3],[-2.8,142.6],[-2.3,142.6],[-1.5,142.6],[-1,139],[-3.5,136.8],[-9.2,136.3],[-4.2,135],[-2,138],[-2.6,135.6],[-1.35,135.6],[-3.95,132],[-3,132],[-1.9,132],[-7.2,128.8],[-4.6,128.5],[-3.65,127.3],[-5.15,125],[-2.85,126.2],[-1.5,127.3],[-2.3,123.8],[-0.8,122.7],[-3.65,121.5],[-3,122.7],[-1.75,121.5],[-4.25,119.1],[-2.85,115.6],[-5.45,116],[-4.85,115.6],[-3.65,115.6],[-1.5,114.4],[-1.1,114.4],[-5,111.4],[-9.45,109],[-7.45,106.2],[-8.2,103.2],[-4.7,110.9],[-3.3,109.7],[-3.95,107.4],[-2.6,107.4],[-0.75,108.6],[-2,107.4],[-4.75,103.9],[-4.5,102.7],[-3.65,103.9],[-5.85,101.5],[-1.2,101.5],[-0.8,98],[-3.65,98],[-3.1,98],[-5.7,96],[-5.55,94.5],[-2.45,95.6],[-1.65,96.8],[-4.35,92],[-3.75,92],[-4.55,88.6],[-2.6,89.8],[-3.25,88.6],[-4.9,85.5],[-4.5,85.5],[-0.7,85.5],[-8.65,81],[-3.95,83.9],[-4.75,80.4],[-4.35,80.4],[-7.4,78.7],[-6.95,77.8],[-6.4,77.3],[-5.4,76.8],[-5.15,77.3],[-3.8,76.8],[-0.4,77.5],[-7,72.8],[-4.85,73.8],[-4.5,73.3],[-12.1,71.2],[-3.65,68.6],[-5.85,67.9],[-4.5,66.3],[-3,71],[-10.6,62],[-10.45,59.2],[-8.5,62],[-6.7,60.4],[-7.25,58.7],[-7.15,55.7],[-5.2,61],[-4.95,62.7],[-4.35,60.4],[-3.65,61.6],[-11.1,56.9],[-10.85,53.3],[-10.75,51.7],[-9.5,55.5],[-8.45,55.2],[-9.9,51.7],[-9.25,51],[-5.7,53.3],[-5,55.7],[-4.5,54.5],[-3.65,56.9],[-8.55,49.8],[-8.85,46.3],[-7.6,48.6],[-7.75,45],[-5.1,49.3],[-4.35,47.5],[-6.6,47],[-6,45],[-8.4,41.6],[-8,42.8],[-7.45,39.2],[-6.65,41.6],[-5.3,38.5],[-4.9,38],[-4.05,40.4],[-3.65,47.5],[-6.95,38],[-5.9,39.2],[-8.55,34.5],[-7.9,35.2],[-7.35,34.5],[-6.5,35.7],[-5.15,33.4],[-4.35,36.9],[-7.6,31],[-6.1,31],[-4.75,31],[-4.05,31],[-8.3,26.3],[-7.45,25],[-5.55,26.3],[-6.65,26.3],[-13.3,94.2]];
const panelDUp=[[0.95,300],[1.13,300],[1.31,300],[1.49,300],[1.67,300],[1.85,300],[2.03,300],[2.21,300],[2.39,300],[2.57,300],[2.75,300],[2.93,300],[3.11,300],[3.29,300],[3.47,300],[3.65,300],[3.83,300],[4.01,300],[4.19,300],[4.37,300],[4.55,300],[4.75,300],[5,300],[5.3,300],[5.55,300],[5.85,300],[6.65,300],[7,300],[8,300],[10.45,300],[2.1,301],[3.6,297.7],[1.65,291.8],[4.25,288.8],[2.05,282.9],[2.7,279],[2.8,276.5],[1.75,272.5],[2,269.5],[2.3,270],[2.65,270.7],[5.15,270],[1.65,264.8],[2.15,260],[2.3,258.5],[2.95,256.6],[4.8,254.2],[1.5,251.4],[2.7,246.7],[1.3,245.8],[8.25,246.7],[3.35,241.8],[2.55,241.3],[3.25,230.7],[1.1,233.6],[0.7,229.6],[1,227.9],[1.35,225.6],[1.9,223.7],[2.15,223],[2.5,222.5],[4.25,222.5],[0.8,219],[1.35,217.8],[1.5,217.8],[2.45,214.8],[1.5,213.8],[1.2,212],[3.05,211.2],[2,211.2],[4.35,209.6],[2.05,207.2],[5.8,206],[1.65,203.7],[2.15,202.5],[3.05,203.2],[4.5,200.2],[5.25,200.9],[6.7,198.5],[2.8,199],[1.65,196.2],[2,197.8],[2.65,194.3],[5.6,196],[1.4,192],[3.65,191.5],[2.6,188.4],[1.75,188.4],[3.2,186],[0.6,185.4],[2.1,184.9],[1.65,183.7],[5.7,183.7],[3.9,182.6],[6.9,181.6],[0.7,180.2],[1.65,180.2],[1.75,177.9],[3.8,176.2],[0.8,176.2],[1.35,175.5],[2.45,173.9],[0.95,174.3],[5,175.5],[1.9,173.2],[3.35,170.8],[1.1,168.5],[2.3,165],[2.25,164.5],[3.4,163.8],[1.05,163.3],[4.9,162],[1.65,161],[1.1,159.8],[3.25,160.2],[2.95,159.8],[3.7,159.8],[2.1,157.9],[0.95,156],[4.45,155.5],[2.5,153.2],[2.7,150.8],[1,150.8],[2,152],[3.45,147.8],[0.95,147.3],[2.85,147.3],[1.75,146],[2.15,141.9],[3.1,143.8],[4.5,143.3],[5.7,142.2],[0.95,141.5],[1.5,138],[3,138],[0.95,133.2],[1.9,134.4],[1.5,132],[3,132],[5.2,135],[5.5,131.3],[10.85,129],[4.05,128],[4.2,125],[1.75,127.3],[1.1,127.3],[0.4,125],[2.45,125],[5.55,122.7],[0.95,122.7],[3.1,123],[1.65,120.3],[2.15,120.3],[5.15,118],[6.9,117.2],[3.25,115.6],[1.5,115.6],[2,115.6],[4.35,112.8],[0.8,110.9],[1.75,109.7],[3,109.7],[3.55,109.7],[10.55,109],[7.75,107.8],[5.3,106.9],[3.4,105],[1.1,105],[2.3,105],[4.6,103.9],[5.55,102.2],[4.5,100.8],[3.65,101.5],[0.55,100.8],[1.5,100.3],[5,98],[2.45,99],[3.95,96.8],[3,95.6],[13.2,94.2],[3.65,94.5],[4.35,93.3],[0.7,93.3],[1.5,92],[2.3,89.8],[4.05,89],[6.25,89.8],[3.15,87.4],[3.65,85],[4.6,85],[6.3,84.4],[0.55,82.7],[3.25,81.5],[4.05,78],[5,78],[4.75,75.7],[9.05,76.4],[5.7,73.3],[6.9,72.1],[6.8,71],[4.2,72.1],[4.6,71],[4.9,69.8],[3.65,71],[0.4,75.7],[9.7,70],[8.3,67.9],[6.5,66.3],[9.4,65],[11.55,65],[7.05,63.4],[3.1,62.7],[3.95,62.7],[7.2,59.7],[10.35,59.7],[6.05,55.7],[6.25,54.5],[6.8,55.7],[8.35,55.2],[9.5,56.2],[8.7,53.3],[4.05,55.7],[4.6,49.8],[5.15,51],[5.7,51],[7.2,48.6],[8,49.3],[7.6,48],[10.75,53.8],[10.05,43.9],[8.85,46.3],[8.55,42.8],[5.7,45],[6.25,45],[6.8,43.9],[7.45,43.9],[8.95,41.6],[5,40.4],[6.5,38.5],[8.15,39.2],[5.55,35.7],[6.95,35.7],[7.6,36.9],[6.1,34.5],[7.9,33.4],[4.5,33.4],[7.2,31],[3.95,31]];

const SVGNS='http://www.w3.org/2000/svg';
const RED='#f03325';
const BLUE='#1b7cb6';
const GREY='#cccccc';
const POINT_R=6;

const panels=[
{id:'panel-a',x0:714,xs:36.5,y0:1048.7,ys:3.055,axisX:268,axisY:1050.7,topY:119,rightX:1162,xEnds:[-12.22,12.2],yTop:303.4,yTickLeft:249,
 lx0:711,lxs:34,lxY:1118,ly0:1050,lys:3.09,lRight:241,lZero:226,down:panelADown,up:panelAUp,downDense:panelADownDense,upDense:panelAUpDense,downMid:panelADownMid,upMid:panelAUpMid,grey:panelAGrey,greyY:2.5},
{id:'panel-b',x0:2133.7,xs:33.6,y0:1047,ys:3.077,axisX:1684.6,axisY:1049,topY:113.7,rightX:2585.7,xEnds:[-13.37,13.35],yTop:302.9,yTickLeft:1668,
 lx0:2130,lxs:34,lxY:1118,ly0:1050,lys:3.115,lRight:1657,lZero:1641,down:panelBDown,up:panelBUp,downDense:panelBDownDense,upDense:panelBUpDense,downMid:panelBDownMid,upMid:panelBUpMid,grey:panelBGrey,greyY:2.5},
{id:'panel-c',x0:692.7,xs:33,y0:2193.6,ys:2.994,axisX:256,axisY:2196.6,topY:1262.7,rightX:1152.7,xEnds:[-13.3,13.23],yTop:304.5,yTickLeft:235.6,
 lx0:698,lxs:34,lxY:2265,ly0:2198,lys:3.107,lRight:228,lZero:214,down:panelCDown,up:panelCUp,downDense:panelCDownDense,upDense:panelCUpDense,downMid:panelCDownMid,upMid:panelCUpMid,grey:panelCGrey,greyY:2.4},
{id:'panel-d',x0:2139.3,xs:34,y0:2192,ys:3.127,axisX:1686.4,axisY:2195.8,topY:1250,rightX:2592,xEnds:[-13.33,13.3],yTop:301.2,yTickLeft:1668,
 lx0:2133,lxs:34.3,lxY:2263,ly0:2196,lys:3.14,lRight:1658,lZero:1642,down:panelDDown,up:panelDUp,downDense:panelDDownDense,upDense:panelDUpDense,downMid:panelDDownMid,upMid:panelDUpMid,grey:panelDGrey,greyY:2.2}
];

function make(tag,attrs){
  const el=document.createElementNS(SVGNS,tag);
  for(const k in attrs){el.setAttribute(k,attrs[k]);}
  return el;
}

function drawPanel(p){
  const root=document.getElementById(p.id);
  const xScale=function(v){return p.x0+v*p.xs;};
  const yScale=function(v){return p.y0-v*p.ys;};
  const pathOf=function(points){
    return points.map(function(pt,i){return (i?'L':'M')+xScale(pt[0]).toFixed(1)+' '+yScale(pt[1]).toFixed(1);}).join(' ')+' Z';
  };

  function mid(points,tex,name){
    const el=make('path',{d:pathOf(points),fill:'url(#'+tex+')'});
    
    
    root.appendChild(el);
  }
  mid(p.downMid,'tex-down','mid-density-down-region');
  mid(p.upMid,'tex-up','mid-density-up-region');

  function dense(points,color,name){
    const el=make('path',{d:pathOf(points),fill:color,stroke:color,'stroke-width':9,'stroke-linejoin':'round'});
    
    
    root.appendChild(el);
  }
  dense(p.downDense,BLUE,'dense-down-region');
  dense(p.upDense,RED,'dense-up-region');

  p.grey.forEach(function(v){
    const el=make('circle',{cx:xScale(v).toFixed(1),cy:yScale(p.greyY).toFixed(1),r:POINT_R,fill:GREY});
    
    
    root.appendChild(el);
  });
  p.down.forEach(function(pt){
    const el=make('circle',{cx:xScale(pt[0]).toFixed(1),cy:yScale(pt[1]).toFixed(1),r:POINT_R,fill:BLUE});
    
    
    root.appendChild(el);
  });
  p.up.forEach(function(pt){
    const el=make('circle',{cx:xScale(pt[0]).toFixed(1),cy:yScale(pt[1]).toFixed(1),r:POINT_R,fill:RED});
    
    
    root.appendChild(el);
  });

  const yAxis=make('rect',{x:p.axisX-4.5,y:p.topY,width:9,height:p.axisY+4.5-p.topY,fill:'#000'});
  
  
  root.appendChild(yAxis);
  const xAxis=make('rect',{x:p.axisX-4.5,y:p.axisY-4.5,width:p.rightX-p.axisX+4.5,height:9,fill:'#000'});
  
  
  root.appendChild(xAxis);

  xTickValues.concat(p.xEnds).forEach(function(v){
    const t=make('rect',{x:xScale(v)-1.2,y:p.axisY+4,width:2.4,height:12.5,fill:'#111'});
    
    
    root.appendChild(t);
  });
  yTickValues.concat([p.yTop]).forEach(function(v){
    const t=make('rect',{x:p.yTickLeft,y:yScale(v)-(v===0?2.5:1.3),width:p.axisX-p.yTickLeft,height:(v===0?5:2.6),fill:'#111'});
    
    
    root.appendChild(t);
  });

  xTickValues.forEach(function(v,i){
    const dx=v===0?5:(v===5?2:0);
    const t=make('text',{x:p.lx0+v*p.lxs+dx,y:p.lxY,'text-anchor':'middle','class':'tick'});
    
    
    t.textContent=xTickLabels[i];
    root.appendChild(t);
  });
  yTickValues.forEach(function(v,i){
    const right=v===0?p.lZero:(v===300?p.lRight-4:p.lRight);
    const t=make('text',{x:right,y:p.ly0-v*p.lys+14,'text-anchor':'end','class':'tick'});
    
    
    t.textContent=yTickLabels[i];
    root.appendChild(t);
  });
}
panels.forEach(drawPanel);
</script>
</body>
</html>
